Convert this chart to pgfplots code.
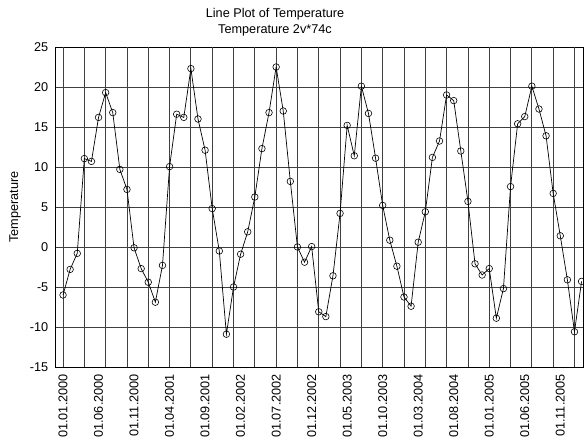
\documentclass[border=0pt]{standalone}
\usepackage{fontspec}
\setmainfont{Liberation Sans}
\usepackage{pgfplots}
\pgfplotsset{compat=1.18}
\usepackage{pgfplotstable}
\pgfplotstableread{
x y
0 -6.0
1 -2.8
2 -0.8
3 11.05
4 10.7
5 16.2
6 19.3
7 16.8
8 9.7
9 7.2
10 -0.1
11 -2.7
12 -4.4
13 -6.9
14 -2.3
15 10.05
16 16.6
17 16.2
18 22.3
19 16.0
20 12.1
21 4.8
22 -0.5
23 -10.9
24 -5.0
25 -0.9
26 1.9
27 6.25
28 12.3
29 16.8
30 22.5
31 17.0
32 8.2
33 0.0
34 -1.9
35 0.05
36 -8.1
37 -8.7
38 -3.6
39 4.2
40 15.2
41 11.4
42 20.1
43 16.7
44 11.1
45 5.2
46 0.85
47 -2.4
48 -6.25
49 -7.4
50 0.6
51 4.4
52 11.2
53 13.25
54 19.0
55 18.3
56 12.0
57 5.7
58 -2.1
59 -3.5
60 -2.7
61 -8.9
62 -5.2
63 7.55
64 15.4
65 16.3
66 20.1
67 17.25
68 13.9
69 6.7
70 1.4
71 -4.1
72 -10.6
73 -4.3
}\temps
\begin{document}
\begin{tikzpicture}[font=\fontsize{12.7}{15}\selectfont]
\useasboundingbox (0,0) rectangle (584pt,443pt);
\begin{axis}[
  at={(55pt,76pt)}, anchor=south west,
  scale only axis, width=528pt, height=320pt,
  xmin=-1.13, xmax=73.2, ymin=-15, ymax=25,
  axis line style={black, line width=0.8pt},
  xtick={0,5,...,70},
  xticklabels={01.01.2000,01.06.2000,01.11.2000,01.04.2001,01.09.2001,01.02.2002,01.07.2002,01.12.2002,01.05.2003,01.10.2003,01.03.2004,01.08.2004,01.01.2005,01.06.2005,01.11.2005},
  extra x ticks={0,3,...,72},
  extra x tick labels={},
  extra x tick style={grid=major},
  ytick={-15,-10,...,25},
  ymajorgrids,
  major tick length=0pt,
  grid style={black!75, line width=0.8pt},
  tick label style={font=\fontsize{12.7}{15}\selectfont},
  /pgf/number format/assume math mode=true,
  xticklabel style={rotate=90, anchor=east, inner sep=0pt, xshift=-7pt},
  yticklabel style={anchor=east, inner sep=0pt, xshift=-6.5pt},
  clip=false,
]
\addplot[black, line width=0.7pt, mark=o, mark size=3.3pt, mark options={solid, line width=0.6pt}] table[x=x, y=y] {\temps};
\end{axis}
\node at (275pt,429pt) {Line Plot of Temperature};
\node at (275pt,413pt) {Temperature 2v*74c};
\node[rotate=90] at (15pt,236pt) {Temperature};
\end{tikzpicture}
\end{document}
